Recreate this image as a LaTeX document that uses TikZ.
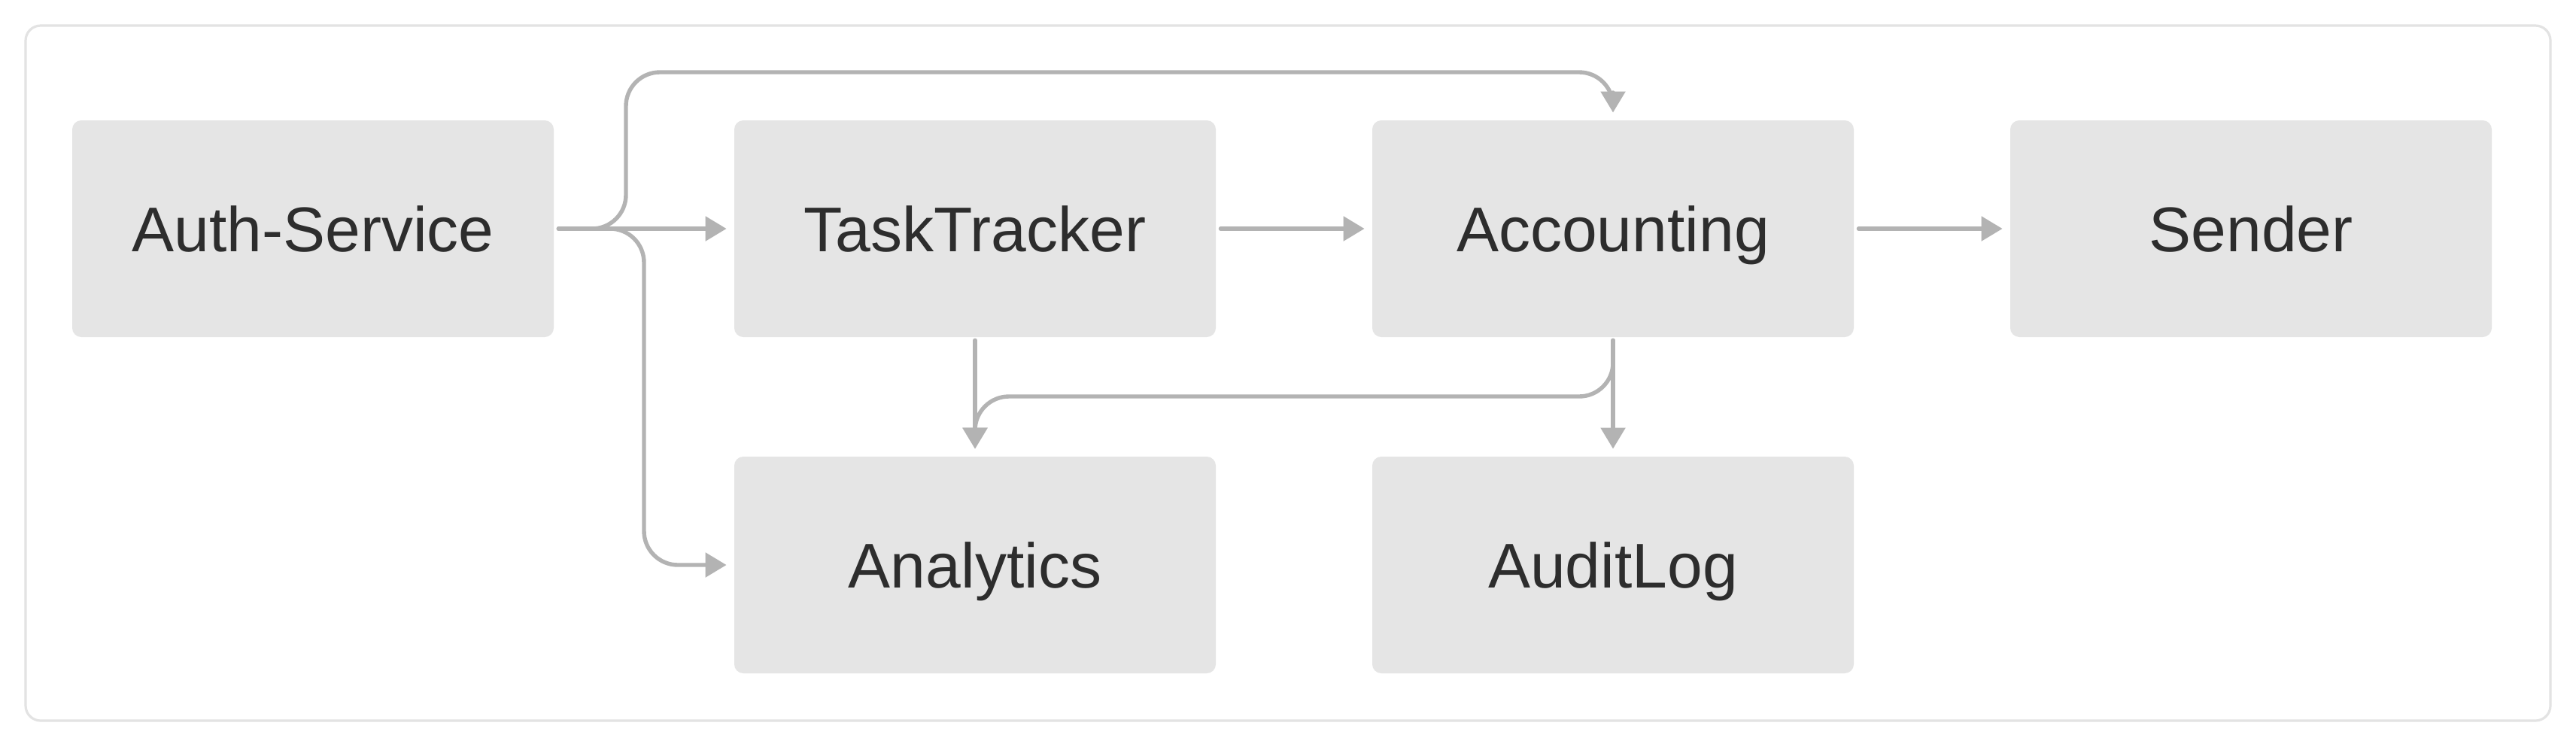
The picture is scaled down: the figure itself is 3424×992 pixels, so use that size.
\documentclass[tikz,border=0pt]{standalone}
\usepackage{fontspec}
\setmainfont{Liberation Sans}
\usetikzlibrary{arrows.meta}
\definecolor{boxgray}{HTML}{E5E5E5}
\definecolor{framegray}{HTML}{E3E3E3}
\definecolor{linegray}{HTML}{B3B3B3}
\definecolor{textdark}{HTML}{2D2D2D}
\tikzset{
  svc/.style={rectangle, rounded corners=6pt, fill=boxgray, draw=none,
    minimum width=320pt, minimum height=144pt, inner sep=0pt,
    text height=30pt, text depth=0pt,
    text=textdark, font=\fontsize{42}{50}\selectfont},
  conn/.style={draw=linegray, line width=2.7pt, line cap=round,
    -{Triangle[length=14pt,width=16pt]}, shorten <=3pt, shorten >=5pt},
  roundbend/.style={rounded corners=22.5pt}
}
\begin{document}
\begin{tikzpicture}[x=0.5pt,y=-0.5pt]
\useasboundingbox (0,0) rectangle (3424,992);
\fill[white] (0,0) rectangle (3424,992);
\draw[framegray, line width=1.6pt, rounded corners=10pt] (34,34) rectangle (3390,958);

\node[svc] (auth) at (416,304) {Auth-Service};
\node[svc] (tt) at (1296,304) {TaskTracker};
\node[svc] (acc) at (2144,304) {Accounting};
\node[svc] (snd) at (2992,304) {Sender};
\node[svc] (ana) at (1296,751) {Analytics};
\node[svc] (aud) at (2144,751) {AuditLog};

\coordinate (upx) at (832,96);
\coordinate (dnx) at (856,304);
\coordinate (midy) at (2144,527);

\draw[conn] (auth) -- (tt);
\draw[conn] (tt) -- (acc);
\draw[conn] (acc) -- (snd);
\draw[conn, roundbend] (auth.east) -- (auth.east -| upx) -- (upx) -- (upx -| acc.north) -- (acc.north);
\draw[conn, roundbend] (auth.east) -| (dnx |- ana.west) -- (ana.west);
\draw[conn, shorten <=2pt] (tt.south) -- (ana.north);
\draw[conn, shorten <=2pt] (acc.south) -- (aud.north);
\draw[conn, roundbend, shorten <=2pt] (acc.south) -- (midy) -- (midy -| ana.north) -- (ana.north);
\end{tikzpicture}
\end{document}
